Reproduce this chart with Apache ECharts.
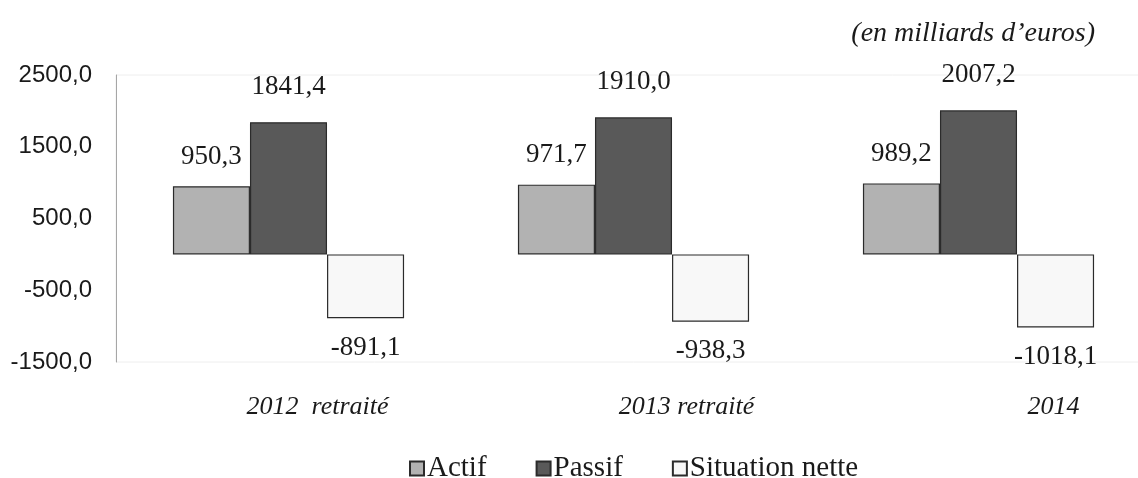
<!DOCTYPE html>
<html>
<head>
<meta charset="utf-8">
<script src="https://cdn.jsdelivr.net/npm/echarts@6/dist/echarts.min.js"></script>
<style>
  html, body { margin: 0; padding: 0; background: #ffffff; overflow: hidden; }
  #chart { width: 1151px; height: 478px; }
</style>
</head>
<body>
<div id="chart"></div>
<script>
// Bilan de l'État (en milliards d'euros)
const categories = ['2012  retraité', '2013 retraité', '2014'];
const actif = [950.3, 971.7, 989.2];
const passif = [1841.4, 1910.0, 2007.2];
const situationNette = [-891.1, -938.3, -1018.1];
const yTicks = [-1500, -500, 500, 1500, 2500];

const fmt = v => Number(v).toFixed(1).replace('.', ',');
const serif = '"Liberation Serif", "DejaVu Serif", serif';
const sans = '"Liberation Sans", "DejaVu Sans", sans-serif';

// horizontal nudge (left padding) for each category label
const labelShift = [58, 106, 150];
const rich = {};
labelShift.forEach((p, i) => {
  rich['c' + i] = {
    fontFamily: serif, fontStyle: 'italic', fontSize: 26, color: '#1a1a1a',
    padding: [0, 0, 0, p]
  };
});

const dataLabel = (pos, dist) => ({
  show: true, position: pos, distance: dist,
  fontFamily: serif, fontSize: 27, color: '#1a1a1a',
  formatter: p => fmt(p.value)
});

const chart = echarts.init(document.getElementById('chart'));
chart.setOption({
  backgroundColor: '#ffffff',
  animation: false,
  title: {
    text: '(en milliards d\u2019euros)',
    right: 51, top: 15,
    textStyle: { fontFamily: serif, fontStyle: 'italic', fontWeight: 'normal', fontSize: 28, color: '#1a1a1a' }
  },
  legend: {
    left: 404, top: 449,
    itemWidth: 14, itemHeight: 14, itemGap: 49,
    icon: 'rect',
    textStyle: { fontFamily: serif, fontSize: 29, color: '#1a1a1a', padding: [0, 0, 0, -2] },
    data: ['Actif', 'Passif', 'Situation nette']
  },
  grid: {
    left: 116, right: 0, top: 75, bottom: 116,
    show: true, borderColor: '#eeeeee', borderWidth: 1
  },
  xAxis: {
    type: 'category',
    data: categories,
    axisLine: { show: false, onZero: false },
    axisTick: { show: false },
    axisLabel: {
      margin: 32,
      formatter: (v, i) => '{c' + i + '|' + v + '}',
      rich: rich
    }
  },
  yAxis: {
    type: 'value',
    min: -1500, max: 2500, interval: 500,
    axisLine: { show: true, lineStyle: { color: '#a6a6a6', width: 1 } },
    axisTick: { show: false },
    splitLine: { show: false },
    axisLabel: {
      margin: 24,
      fontFamily: sans, fontSize: 24, color: '#1a1a1a',
      formatter: v => yTicks.includes(v) ? fmt(v) : ''
    }
  },
  series: [
    {
      name: 'Actif', type: 'bar', data: actif,
      barGap: '0%', barCategoryGap: '33%',
      itemStyle: { color: '#b2b2b2', borderColor: '#2b2b2b', borderWidth: 1.2 },
      label: dataLabel('top', 16)
    },
    {
      name: 'Passif', type: 'bar', data: passif,
      itemStyle: { color: '#595959', borderColor: '#2b2b2b', borderWidth: 1.2 },
      label: dataLabel('top', 22)
    },
    {
      name: 'Situation nette', type: 'bar', data: situationNette,
      itemStyle: { color: '#f8f8f8', borderColor: '#2b2b2b', borderWidth: 1.2 },
      label: dataLabel('bottom', 16)
    }
  ]
});
</script>
</body>
</html>
